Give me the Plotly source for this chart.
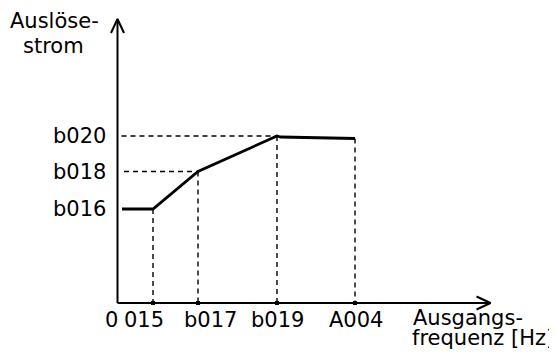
import plotly.graph_objects as go

# ---- data (arbitrary units, origin = axis crossing) ----
x_tick_labels = ["015", "b017", "b019", "A004"]
x_tick_vals = [35.5, 80.5, 159.5, 237.5]
y_tick_labels = ["b016", "b018", "b020"]
y_tick_vals = [94.0, 131.5, 167.0]
curve_x = [4.5, 35.5, 80.5, 159.5, 163.0, 237.5]
curve_y = [94.0, 94.0, 131.5, 167.0, 166.0, 164.5]
# value of the curve at each x tick (for the vertical guides)
guide_y = [94.0, 131.5, 167.0, 164.5]

# ---- style / layout constants ----
FONT = "DejaVu Sans"
FS = 21
X_MAX = 373.0
Y_MAX = 284.0
ARROW_LEN = 14.0
ARROW_HALF = 6.5
W, H = 557, 352
PAGE_OFFSET = 8         # browser default body margin
X_LEFT = 117.5 - PAGE_OFFSET    # pixel position of origin inside the figure
Y_BOTTOM = 303.0 - PAGE_OFFSET
x_shift = [-9, 12, 0, 1]

fig = go.Figure()
dash = dict(color="black", width=1.4, dash="5px,4px")

# vertical dashed guides
for xv, yv in zip(x_tick_vals, guide_y):
    fig.add_trace(go.Scatter(x=[xv, xv], y=[yv, 0], mode="lines", line=dash,
                             hoverinfo="skip", showlegend=False))
# horizontal dashed guides for b018, b020
for yv, xv, x0 in [(y_tick_vals[1], x_tick_vals[1], 6.5), (y_tick_vals[2], x_tick_vals[2], 4.0)]:
    fig.add_trace(go.Scatter(x=[x0, xv], y=[yv, yv], mode="lines", line=dash,
                             hoverinfo="skip", showlegend=False))

# axes with open arrowheads
axis_line = dict(color="black", width=2)
fig.add_trace(go.Scatter(x=[0, 0], y=[0, Y_MAX], mode="lines", line=axis_line, showlegend=False))
fig.add_trace(go.Scatter(x=[0, X_MAX], y=[0, 0], mode="lines", line=axis_line, showlegend=False))
fig.add_trace(go.Scatter(x=[-ARROW_HALF, 0, ARROW_HALF],
                         y=[Y_MAX - ARROW_LEN, Y_MAX, Y_MAX - ARROW_LEN],
                         mode="lines", line=axis_line, showlegend=False))
fig.add_trace(go.Scatter(x=[X_MAX - ARROW_LEN, X_MAX, X_MAX - ARROW_LEN],
                         y=[ARROW_HALF, 0, -ARROW_HALF],
                         mode="lines", line=axis_line, showlegend=False))

# tick markers
fig.add_trace(go.Scatter(x=x_tick_vals, y=[0] * len(x_tick_vals), mode="markers",
                         marker=dict(symbol="square", size=4, color="black"), showlegend=False))

# characteristic curve
fig.add_trace(go.Scatter(x=curve_x, y=curve_y, mode="lines",
                         line=dict(color="black", width=2.8), showlegend=False))

font = dict(family=FONT, size=FS, color="black")
ann = []
for lab, xv, sh in zip(x_tick_labels, x_tick_vals, x_shift):
    ann.append(dict(x=xv, y=-16.6, text=lab, xanchor="center", yanchor="middle",
                    xshift=sh, showarrow=False, font=font))
ann.append(dict(x=-6, y=-16.6, text="0", xanchor="center", yanchor="middle",
                showarrow=False, font=font))
for lab, yv in zip(y_tick_labels, y_tick_vals):
    ann.append(dict(x=-9.5, y=yv, text=lab, xanchor="right", yanchor="middle",
                    showarrow=False, font=font))
ann += [
    dict(x=-63.5, y=282, text="Auslöse-", xanchor="center", yanchor="middle", showarrow=False, font=font),
    dict(x=-64, y=257, text="strom", xanchor="center", yanchor="middle", showarrow=False, font=font),
    dict(x=293.5, y=-14.6, text="Ausgangs-", xanchor="left", yanchor="middle", showarrow=False, font=font),
    dict(x=292.5, y=-34.6, text="frequenz [Hz]", xanchor="left", yanchor="middle", showarrow=False, font=font),
    dict(x=434, y=258, text="e", xanchor="left", yanchor="middle", showarrow=False, font=font),
]
for a in ann:
    a["xref"] = "x"
    a["yref"] = "y"

fig.update_layout(
    width=W, height=H, margin=dict(l=0, r=0, t=0, b=0),
    paper_bgcolor="white", plot_bgcolor="white",
    xaxis=dict(range=[-X_LEFT, W - X_LEFT], visible=False, fixedrange=True),
    yaxis=dict(range=[Y_BOTTOM - H, Y_BOTTOM], visible=False, fixedrange=True),
    annotations=ann, showlegend=False,
)
fig.write_html("out.html")
